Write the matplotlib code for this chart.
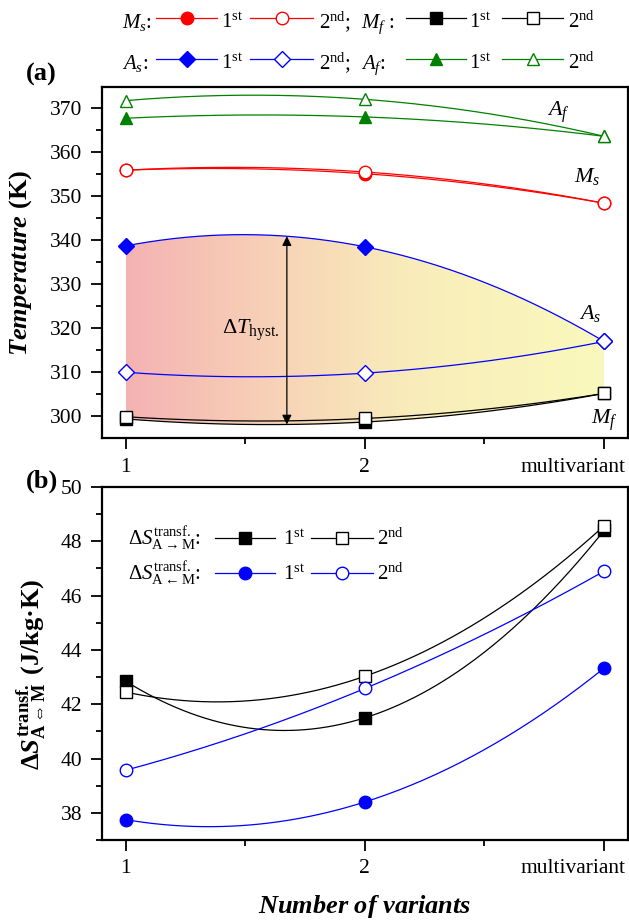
import numpy as np
import matplotlib
matplotlib.use('Agg')
import matplotlib.pyplot as plt
import matplotlib.transforms as mtransforms
from matplotlib.colors import LinearSegmentedColormap
from matplotlib.lines import Line2D
from matplotlib.patches import Polygon

plt.rcParams['font.family'] = 'Liberation Serif'
plt.rcParams['mathtext.fontset'] = 'custom'
plt.rcParams['mathtext.rm'] = 'Liberation Serif'
plt.rcParams['mathtext.it'] = 'Liberation Serif:italic'
plt.rcParams['mathtext.bf'] = 'Liberation Serif:bold'
plt.rcParams['mathtext.bfit'] = 'Liberation Serif:bold:italic'
plt.rcParams['mathtext.fallback'] = 'stix'

variants = [1, 2, 3]
variant_labels = ['1', '2', 'multivariant']

# transformation temperatures (K), 1st and 2nd cycle
ms_1 = [355.9, 355.1, 348.4]
ms_2 = [355.9, 355.5, 348.4]
mf_1 = [299.4, 298.7, 305.2]
mf_2 = [299.9, 299.5, 305.2]
as_1 = [338.7, 338.5, 317.0]
as_2 = [310.0, 309.8, 317.0]
af_1 = [367.7, 368.0, 363.6]
af_2 = [371.7, 372.0, 363.6]

# transformation entropy (J/kg K), 1st and 2nd cycle
ds_am_1 = [42.85, 41.5, 48.4]
ds_am_2 = [42.45, 43.03, 48.57]
ds_ma_1 = [37.75, 38.4, 43.33]
ds_ma_2 = [39.57, 42.58, 46.9]

W, H = 629, 923
fig = plt.figure(figsize=(W / 100, H / 100), dpi=100)
ax1 = fig.add_axes([101.7 / W, 1 - 438.3 / H, 526.3 / W, 351.3 / H])
ax2 = fig.add_axes([101.7 / W, 1 - 840 / H, 526.3 / W, 353 / H])

RED, BLUE, GREEN, BLACK = '#ff0000', '#0000ff', '#008000', '#000000'
xs = np.linspace(1, 3, 200)


def fit(y):
    return np.polyfit(variants, y, 2)


def smooth(y):
    return np.polyval(fit(y), xs)


def series(ax, y, color, marker, filled, ms):
    ax.plot(xs, smooth(y), color=color, lw=0.9, zorder=3)
    ax.plot(variants, y, ls='none', marker=marker, ms=ms, mec=color,
            mfc=color if filled else 'white', mew=1.0,
            zorder=4 if filled else 5, clip_on=False)


# (a) temperatures
grad_cmap = LinearSegmentedColormap.from_list('hyst', [
    (0.0, (0.96, 0.70, 0.70)),
    (0.35, (0.97, 0.84, 0.72)),
    (0.6, (0.975, 0.93, 0.73)),
    (1.0, (0.98, 0.975, 0.74)),
])
top = smooth(as_1)
bot = smooth(mf_1)
verts = np.column_stack([np.r_[xs, xs[::-1]], np.r_[top, bot[::-1]]])
band = Polygon(verts, closed=True, facecolor='none', edgecolor='none')
ax1.add_patch(band)
im = ax1.imshow(np.linspace(0, 1, 256).reshape(1, -1), cmap=grad_cmap,
                extent=[1, 3, bot.min(), top.max()], aspect='auto',
                origin='lower', zorder=1)
im.set_clip_path(band)

series(ax1, ms_1, RED, 'o', True, 9)
series(ax1, ms_2, RED, 'o', False, 9)
series(ax1, mf_1, BLACK, 's', True, 8)
series(ax1, mf_2, BLACK, 's', False, 8)
series(ax1, as_1, BLUE, 'D', True, 8)
series(ax1, as_2, BLUE, 'D', False, 8)
series(ax1, af_1, GREEN, '^', True, 9)
series(ax1, af_2, GREEN, '^', False, 9)

xa = 1.674
ax1.annotate('', xy=(xa, np.polyval(fit(as_1), xa)),
             xytext=(xa, np.polyval(fit(mf_1), xa)),
             arrowprops=dict(arrowstyle='<|-|>', color='black', lw=0.9,
                             mutation_scale=14, shrinkA=0, shrinkB=0),
             zorder=6)
ax1.text(1.645, 319.5, r'$\Delta T_{\mathrm{hyst.}}$', fontsize=16,
         ha='right', va='center')
ax1.text(2.81, 369.1, r'$A_f$', fontsize=16, ha='center', va='center')
ax1.text(2.93, 354.5, r'$M_s$', fontsize=16, ha='center', va='center')
ax1.text(2.94, 323.4, r'$A_s$', fontsize=16, ha='center', va='center')
ax1.text(3.0, 299.1, r'$M_f$', fontsize=16, ha='center', va='center')

ax1.set_ylim(295, 374.8)
ax1.set_yticks(np.arange(300, 371, 10))
ax1.set_yticks(np.arange(300, 371, 5), minor=True)
ax1.set_ylabel(r'$\mathbfit{Temperature}$ (K)', fontsize=19,
               fontweight='bold')
ax1.yaxis.set_label_coords(-0.128, 0.5)

# (b) transformation entropy
series(ax2, ds_am_1, BLACK, 's', True, 8)
series(ax2, ds_am_2, BLACK, 's', False, 8)
series(ax2, ds_ma_1, BLUE, 'o', True, 9)
series(ax2, ds_ma_2, BLUE, 'o', False, 9)

ax2.set_ylim(37, 50)
ax2.set_yticks(np.arange(38, 51, 2))
ax2.set_yticks(np.arange(37, 51, 1), minor=True)
ax2.set_ylabel(r'$\mathbf{\Delta}\mathbfit{S}^{\,\mathbf{transf.}}_{\mathbf{A{\Leftrightarrow}M}}$'
               ' (J/kg\u00b7K)', fontsize=19, fontweight='bold')
ax2.yaxis.set_label_coords(-0.102, 0.47)
ax2.set_xlabel(r'$\mathbfit{Number\ of\ variants}$', fontsize=19)
ax2.xaxis.set_label_coords(0.5, -0.15)

for ax in (ax1, ax2):
    ax.set_xlim(0.9, 3.1)
    ax.set_xticks(variants)
    ax.set_xticklabels(variant_labels)
    ax.set_xticks([1.5, 2.5], minor=True)
    ax.tick_params(which='both', direction='out', width=1.3, labelsize=15.5,
                   top=False, right=False)
    ax.tick_params(which='major', length=8, pad=6)
    ax.tick_params(which='minor', length=4.5)
    for sp in ax.spines.values():
        sp.set_linewidth(1.6)
    lbl = ax.get_xticklabels()[2]
    lbl.set_horizontalalignment('right')
    lbl.set_transform(lbl.get_transform() +
                      mtransforms.ScaledTranslation(0.21, 0, fig.dpi_scale_trans))

fig.text(26 / W, 1 - 74 / H, '(a)', fontsize=19, fontweight='bold',
         ha='left', va='center')
fig.text(26 / W, 1 - 481 / H, '(b)', fontsize=19, fontweight='bold',
         ha='left', va='center')


# hand-built legends above (a) and inside (b)
def legend_row(y_line, y_base, texts, handles, size=15):
    for x, s in texts:
        fig.text(x / W, 1 - y_base / H, s, fontsize=size, ha='left',
                 va='baseline')
    for (x0, x1), (color, marker, filled, ms) in handles:
        yl = 1 - y_line / H
        fig.add_artist(Line2D([x0 / W, x1 / W], [yl, yl],
                              transform=fig.transFigure, color=color, lw=0.9))
        fig.add_artist(Line2D([(x0 + x1) / 2 / W], [yl],
                              transform=fig.transFigure, ls='none',
                              marker=marker, ms=ms, mec=color, mew=1.0,
                              mfc=color if filled else 'white'))


st, nd = r'$1^{\mathrm{st}}$', r'$2^{\mathrm{nd}}$'
spans_a = [(156, 217), (250, 313), (406, 466), (502, 563)]
legend_row(18, 28,
           [(122, r'$M_s$:'), (221, st), (319, nd + ';'), (361, r'$M_f$ :'),
            (469, st), (568, nd)],
           list(zip(spans_a, [(RED, 'o', True, 9), (RED, 'o', False, 9),
                              (BLACK, 's', True, 8), (BLACK, 's', False, 8)])))
legend_row(59, 69,
           [(122, r'$A_s$:'), (221, st), (319, nd + ';'), (361, r'$A_f$:'),
            (469, st), (568, nd)],
           list(zip(spans_a, [(BLUE, 'D', True, 8), (BLUE, 'D', False, 8),
                              (GREEN, '^', True, 9), (GREEN, '^', False, 9)])))

spans_b = [(215, 275), (311, 373)]
legend_row(538, 545,
           [(128, r'$\Delta S^{\mathrm{transf.}}_{\mathrm{A{\rightarrow}M}}$:'),
            (283, st), (377, nd)],
           list(zip(spans_b, [(BLACK, 's', True, 8), (BLACK, 's', False, 8)])))
legend_row(573, 580,
           [(128, r'$\Delta S^{\mathrm{transf.}}_{\mathrm{A{\leftarrow}M}}$:'),
            (283, st), (377, nd)],
           list(zip(spans_b, [(BLUE, 'o', True, 9), (BLUE, 'o', False, 9)])))

fig.savefig('out.png', dpi=100)
